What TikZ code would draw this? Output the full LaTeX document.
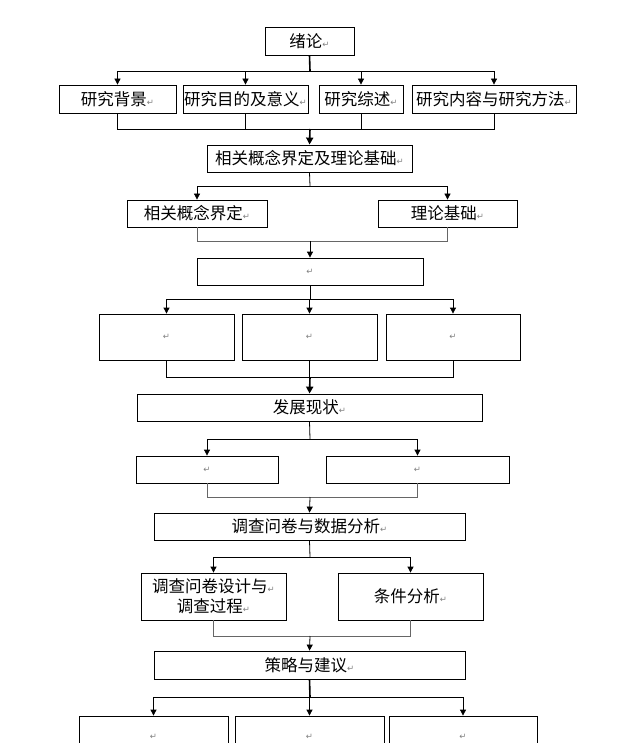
\documentclass[tikz,border=0pt]{standalone}
\usepackage{fontspec}
\newfontfamily\cjk{Noto Sans CJK SC}
\newfontfamily\djv{DejaVu Sans}
\usetikzlibrary{arrows.meta}
\newcommand\pmk{{\djv\fontsize{8.5}{8.5}\selectfont\textcolor{black!50}{↵}}}
\newcommand\bx[6]{\node[boxst,minimum width={#4-#2},minimum height={#5-#3}] (#1) at ({(#2+#4)/2},{(#3+#5)/2}) {#6};}
\tikzset{
  boxst/.style={draw,line width=0.8pt,inner sep=0pt,font={\cjk\fontsize{16.5}{20}\selectfont},align=center},
  ln/.style={line width=0.8pt},
  lg/.style={line width=0.9pt,draw=black!60},
  arr/.style={ln,-{Triangle[width=6pt,length=6pt]}},
  sp/.style={line width=1.6pt},
  sparr/.style={line width=1.6pt,-{Triangle[width=7pt,length=7pt]}}
}
\begin{document}
\begin{tikzpicture}[x=1pt,y=-1pt]
\useasboundingbox (0,0) rectangle (636,743);
\clip (0,0) rectangle (636,743);
% level 1
\bx{a}{265}{27}{354}{55}{绪论\pmk}
\bx{b1}{59}{85}{176}{113}{研究背景\pmk}
\bx{b2}{183}{85}{308}{113}{研究目的及意义\pmk}
\bx{b3}{319}{85}{403}{113}{研究综述\pmk}
\bx{b4}{412}{85}{576}{113}{研究内容与研究方法\pmk}
\coordinate (j1) at (310,71);
\coordinate (m1) at (310,129);
\draw[sp] (a.south) -- (j1);
\foreach \b in {b1,b2,b3,b4} {\draw[arr] (j1) -| (\b.north); \draw[ln] (\b.south) |- (m1);}
% level 2
\bx{c}{207}{145}{412}{172}{相关概念界定及理论基础\pmk}
\draw[sparr] (m1) -- (c.north);
\bx{c1}{127}{200}{267}{227}{相关概念界定\pmk}
\bx{c2}{378}{200}{517}{227}{理论基础\pmk}
\coordinate (j2) at (310,186);
\coordinate (m2) at (310,241);
\draw[ln] (c.south) -- (j2);
\foreach \b in {c1,c2} {\draw[arr] (j2) -| (\b.north); \draw[lg] (\b.south) |- (m2);}
% level 3
\bx{d}{197}{258}{423}{285}{\pmk}
\draw[arr] (m2) -- (d.north);
\bx{d1}{99}{314}{234}{360}{\pmk}
\bx{d2}{242}{314}{377}{360}{\pmk}
\bx{d3}{386}{314}{520}{360}{\pmk}
\coordinate (j3) at (310,299);
\coordinate (m3) at (310,377);
\draw[ln] (d.south) -- (j3);
\foreach \b in {d1,d2,d3} {\draw[arr] (j3) -| (\b.north); \draw[ln] (\b.south) |- (m3);}
% level 4
\bx{e}{137}{394}{482}{421}{发展现状\pmk}
\draw[sparr] (m3) -- (e.north);
\bx{e1}{136}{456}{278}{483}{\pmk}
\bx{e2}{326}{456}{509}{483}{\pmk}
\coordinate (j4) at (310,439);
\coordinate (m4) at (310,497);
\draw[ln] (e.south) -- (j4);
\foreach \b in {e1,e2} {\draw[arr] (j4) -| (\b.north); \draw[lg] (\b.south) |- (m4);}
% level 5
\bx{f}{154}{513}{465}{540}{调查问卷与数据分析\pmk}
\draw[arr] (m4) -- (f.north);
\bx{f1}{141}{573}{286}{620}{调查问卷设计与\pmk\\调查过程\pmk}
\bx{f2}{338}{573}{483}{620}{条件分析\pmk}
\coordinate (j5) at (310,557);
\coordinate (m5) at (310,636);
\draw[ln] (f.south) -- (j5);
\foreach \b in {f1,f2} {\draw[arr] (j5) -| (\b.north); \draw[lg] (\b.south) |- (m5);}
% level 6
\bx{g}{154}{651}{465}{679}{策略与建议\pmk}
\draw[arr] (m5) -- (g.north);
\bx{g1}{79}{716}{228}{758}{\pmk}
\bx{g2}{235}{716}{384}{758}{\pmk}
\bx{g3}{389}{716}{537}{758}{\pmk}
\coordinate (j6) at (310,697);
\draw[sp] (g.south) -- (j6);
\foreach \b in {g1,g2,g3} {\draw[arr] (j6) -| (\b.north);}
\end{tikzpicture}
\end{document}
